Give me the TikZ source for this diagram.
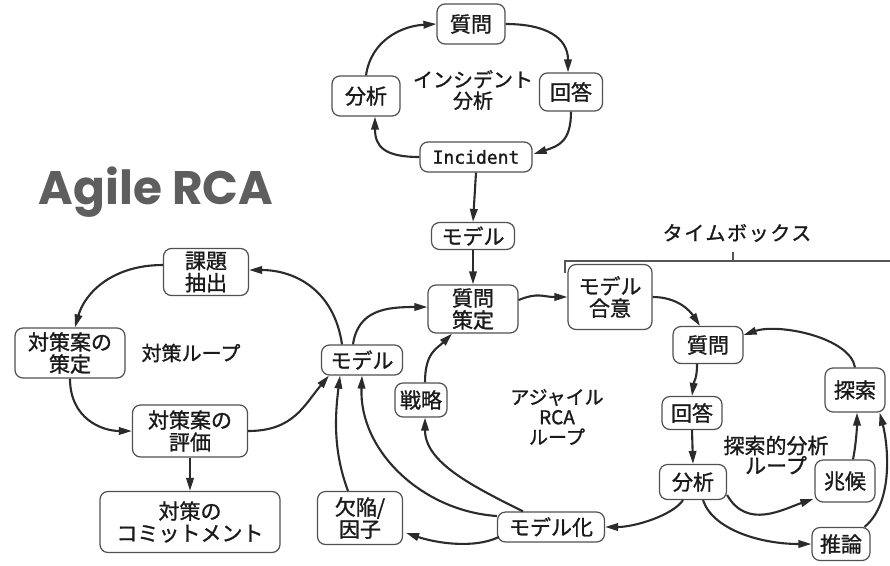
\documentclass[tikz,border=0pt]{standalone}
\usepackage{fontspec}
\usetikzlibrary{arrows.meta,calc}
\newfontfamily\jpfont{Noto Sans CJK JP}[FakeBold=1.2]
\newfontfamily\titlefont{Poppins}
\newfontfamily\incfont{DejaVu Sans Mono}[FakeBold=1.4]
\definecolor{ink}{HTML}{1A1A1A}
\definecolor{arrowc}{HTML}{2B2B2B}
\definecolor{boxline}{HTML}{505050}
\definecolor{titlegray}{HTML}{5E5E5E}
\definecolor{bracketc}{HTML}{555555}
\tikzset{
  wh/.style 2 args={minimum width=#1pt, minimum height=#2pt},
  box/.style={draw=boxline, line width=1.2pt, rounded corners=8pt, fill=white, align=center, inner sep=0pt, text=ink, font=\jpfont\fontsize{21}{22}\selectfont},
  lbl/.style={align=center, inner sep=0pt, text=ink, font=\jpfont\fontsize{20}{21}\selectfont},
  flow/.style={draw=arrowc, line width=2.1pt, -{Triangle[length=13pt,width=7.5pt]}},
  bracket/.style={draw=bracketc, line width=1.2pt},
}
\begin{document}
\begin{tikzpicture}[x=1pt,y=-1pt]
\useasboundingbox (0,0) rectangle (890,565);
\fill[white] (0,0) rectangle (890,565);

% ---- incident loop
\node[box, wh={68}{40}] (q1) at (471,24) {質問};
\node[box, wh={68}{40}] (a1) at (366,96) {分析};
\node[box, wh={63}{38}] (r1) at (571,92) {回答};
\node[box, wh={112}{30}, font=\incfont\fontsize{18}{20}\selectfont] (inc) at (476,157) {Incident};
\node[lbl] (lInc) at (473,90) {インシデント\\分析};

% ---- title
\node[inner sep=0pt, text=titlegray, font=\titlefont\bfseries\fontsize{47}{50}\selectfont] (title) at (156,192) {Agile RCA};

% ---- agile loop
\node[box, wh={83}{27}] (m1) at (473,236) {モデル};
\node[box, wh={90}{48}] (qs) at (473,309) {質問\\策定};
\node[box, wh={84}{65}] (mg) at (610,297) {モデル\\合意};
\node[box, wh={81}{30}] (m2) at (362,360) {モデル};
\node[box, wh={52}{34}] (st) at (421,400) {戦略};
\node[box, wh={85}{53}] (df) at (360,518) {欠陥/\\因子};
\node[box, wh={107}{30}] (mk) at (551,527) {モデル化};
\node[lbl, font=\jpfont\fontsize{19}{20}\selectfont] (lAg) at (557,417) {アジャイル\\RCA\\ループ};

% ---- exploratory loop
\node[box, wh={70}{37}] (q2) at (708,345) {質問};
\node[box, wh={60}{44}] (ex) at (855,390) {探索};
\node[box, wh={60}{33}] (r2) at (692,413) {回答};
\node[box, wh={67}{35}] (a2) at (693,482) {分析};
\node[box, wh={60}{42}] (sy) at (845,481) {兆候};
\node[box, wh={58}{33}] (inf) at (841,544) {推論};
\node[lbl, font=\jpfont\fontsize{21}{20}\selectfont] (lEx) at (776,455) {探索的分析\\ループ};

% ---- countermeasure loop
\node[box, wh={85}{47}] (kd) at (206,272) {課題\\抽出};
\node[box, wh={110}{50}] (ps) at (70,353) {対策案の\\策定};
\node[box, wh={115}{52}] (ev) at (190,431) {対策案の\\評価};
\node[box, wh={180}{61}] (cm) at (190,522) {対策の\\コミットメント};
\node[lbl] (lCm) at (191,353) {対策ループ};

% ---- timebox
\node[lbl, font=\jpfont\fontsize{20}{22}\selectfont\addfontfeature{LetterSpace=8}] (tb) at (737,233) {タイムボックス};
\coordinate (tbL) at (565,261);
\coordinate (tbR) at (890,261);
\coordinate (tbM) at (733,261);
\draw[bracket] ($(tbL)+(0,12)$) -- (tbL) -- (tbR);
\draw[bracket] (tbM) -- ($(tbM)+(0,-9)$);

% ---- connectors: incident loop
\draw[flow] (a1.north) .. controls +(5,-35) and +(-35,2) .. (q1.west);
\draw[flow] (q1.east) .. controls +(40,0) and +(0,-35) .. ($(r1.north)+(-3,0)$);
\draw[flow] (r1.south) .. controls +(0,30) and +(25,-8) .. ($(inc.east)+(1,-3)$);
\draw[flow] (inc.west) .. controls +(-35,0) and +(0,30) .. ($(a1.south)+(9,0)$);
\draw[flow] (inc.south) -- (m1.north);
\draw[flow] (m1.south) -- (qs.north);

% ---- connectors: countermeasure loop
\draw[flow] ($(kd.west)+(0,-7)$) .. controls +(-50,0) and +(10,-35) .. ($(ps.north)+(5,0)$);
\draw[flow] (ps.south) .. controls +(0,40) and +(-30,0) .. (ev.west);
\draw[flow] (ev.south) -- (cm.north);
\draw[flow] (ev.east) .. controls +(45,0) and +(-25,30) .. ($(m2.south west)+(8,0)$);
\draw[flow] ($(m2.north)+(-20,0)$) .. controls +(-8,-55) and +(45,0) .. ($(kd.east)+(0,-2)$);

% ---- connectors: agile loop
\draw[flow] ($(m2.north)+(-9,0)$) .. controls +(5,-35) and +(-40,0) .. ($(qs.west)+(0,-2)$);
\draw[flow] ($(qs.east)+(0,-9)$) .. controls +(20,-8) and +(-25,0) .. (mg.west);
\draw[flow] ($(st.north)+(4,0)$) .. controls +(0,-30) and +(-15,15) .. ($(qs.south)+(-21,0)$);
\draw[flow] ($(mk.north)+(-28,0)$) .. controls +(-50,-25) and +(0,45) .. ($(st.south)+(4,0)$);
\draw[flow] ($(mk.west)+(0,-11)$) .. controls +(-75,-5) and +(-3,75) .. ($(m2.south)+(0,0)$);
\draw[flow] ($(mk.west)+(2,10)$) .. controls +(-25,12) and +(30,10) .. ($(df.east)+(3,15)$);
\draw[flow] ($(df.north)+(-12,0)$) .. controls +(-15,-40) and +(-5,40) .. ($(m2.south)+(-22,0)$);

% ---- connectors: exploratory loop
\draw[flow] (mg.east) .. controls +(25,0) and +(-10,-15) .. ($(q2.north)+(-8,0)$);
\draw[flow] ($(q2.south)+(-11,0)$) .. controls +(0,15) and +(2,-15) .. (r2.north);
\draw[flow] (r2.south) -- (a2.north);
\draw[flow] ($(a2.east)+(0,13)$) .. controls +(20,35) and +(-30,10) .. ($(sy.west)+(-1,18)$);
\draw[flow] ($(a2.south)+(10,0)$) .. controls +(10,30) and +(-50,0) .. (inf.west);
\draw[flow] ($(a2.south)+(-10,0)$) .. controls +(-10,15) and +(30,0) .. (mk.east);
\draw[flow] ($(sy.north)+(8,0)$) .. controls +(3,-15) and +(0,15) .. ($(ex.south)+(2,0)$);
\draw[flow] ($(inf.north east)+(-6,0)$) .. controls +(30,-25) and +(8,30) .. ($(ex.south east)+(-6,0)$);
\draw[flow] (ex.north) .. controls +(-5,-30) and +(35,-12) .. ($(q2.east)+(0,-10)$);
\end{tikzpicture}
\end{document}
